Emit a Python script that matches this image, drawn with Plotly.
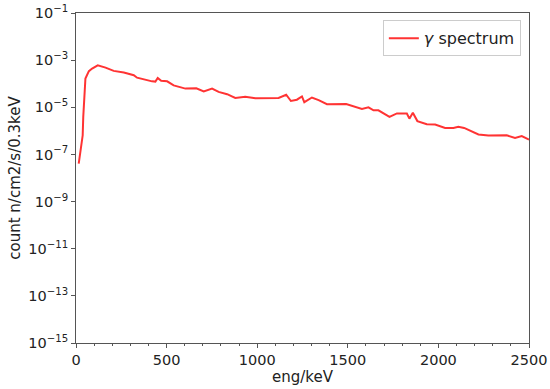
import plotly.graph_objects as go

# Energy (keV) and count values
energy_kev = [15, 25, 37, 40, 47, 52, 71, 89, 120, 163, 208, 264, 319, 337, 420, 438,
              451, 470, 503, 539, 604, 664, 705, 751, 787, 834, 879, 934, 990, 1118,
              1160, 1186, 1219, 1247, 1260, 1302, 1339, 1385, 1491, 1578, 1614, 1642,
              1669, 1730, 1771, 1826, 1840, 1859, 1884, 1936, 1982, 2037, 2083, 2110,
              2142, 2221, 2276, 2377, 2423, 2460, 2500]
counts = [4.1e-8, 1.26e-7, 6.5e-7, 3.9e-6, 4.5e-5, 1.66e-4, 3.4e-4, 4.4e-4, 6.0e-4,
          4.8e-4, 3.5e-4, 3.0e-4, 2.3e-4, 1.8e-4, 1.26e-4, 1.23e-4, 1.74e-4, 1.32e-4,
          1.26e-4, 8.5e-5, 6.2e-5, 6.4e-5, 4.7e-5, 6.2e-5, 4.5e-5, 3.6e-5, 2.5e-5,
          2.8e-5, 2.4e-5, 2.5e-5, 3.4e-5, 1.85e-5, 2.1e-5, 2.9e-5, 1.64e-5, 2.6e-5,
          2.0e-5, 1.35e-5, 1.38e-5, 8.5e-6, 1.0e-5, 7.4e-6, 7.4e-6, 3.9e-6, 5.5e-6,
          5.4e-6, 3.3e-6, 5.9e-6, 2.6e-6, 1.9e-6, 1.86e-6, 1.33e-6, 1.33e-6, 1.5e-6,
          1.33e-6, 7.0e-7, 6.3e-7, 6.5e-7, 5.0e-7, 6.0e-7, 4.3e-7]

x_ticks = [0, 500, 1000, 1500, 2000, 2500]
y_exponents = [-15, -13, -11, -9, -7, -5, -3, -1]
y_tickvals = [10.0 ** e for e in y_exponents]
y_ticktext = ["10<sup>\u2212%d</sup>" % (-e) for e in y_exponents]

FONT = "DejaVu Sans"
AXIS_COLOR = "#555555"
TEXT_COLOR = "#222222"

fig = go.Figure()
fig.add_trace(go.Scatter(
    x=energy_kev, y=counts, mode="lines",
    name="<i>\u03b3</i> spectrum",
    line=dict(color="rgba(255,40,40,0.95)", width=2),
))

fig.update_layout(
    width=550, height=389,
    margin=dict(l=76, r=21, t=13, b=46),
    paper_bgcolor="white", plot_bgcolor="white",
    font=dict(family=FONT, size=14, color=TEXT_COLOR),
    showlegend=True,
    legend=dict(
        x=0.982, y=0.978, xanchor="right", yanchor="top",
        bgcolor="white", bordercolor="#cccccc", borderwidth=1,
        font=dict(family=FONT, size=16, color=TEXT_COLOR),
        tracegroupgap=0,
    ),
)

fig.update_xaxes(
    range=[0, 2500], tickvals=x_ticks, automargin=False,
    showline=True, linecolor=AXIS_COLOR, linewidth=1, mirror=True,
    ticks="outside", ticklen=4, tickcolor=AXIS_COLOR,
    minor=dict(dtick=100, ticks="outside", ticklen=2, tickcolor=AXIS_COLOR),
    showgrid=False, zeroline=False,
    tickfont=dict(family=FONT, size=14.5, color=TEXT_COLOR),
    title=dict(text="eng/keV", font=dict(family=FONT, size=15, color=TEXT_COLOR), standoff=1),
)
fig.update_yaxes(
    type="log", range=[-15, -1], automargin=False,
    tickvals=y_tickvals, ticktext=y_ticktext,
    showline=True, linecolor=AXIS_COLOR, linewidth=1, mirror=True,
    ticks="outside", ticklen=4, tickcolor=AXIS_COLOR,
    showgrid=False, zeroline=False,
    tickfont=dict(family=FONT, size=14.5, color=TEXT_COLOR),
    title=dict(text="count n/cm2/s/0.3keV", font=dict(family=FONT, size=15, color=TEXT_COLOR), standoff=4),
)

fig.write_html(
    "out.html",
    config={"displayModeBar": False},
    post_script="document.body.style.margin='0';document.body.style.padding='0';",
)
